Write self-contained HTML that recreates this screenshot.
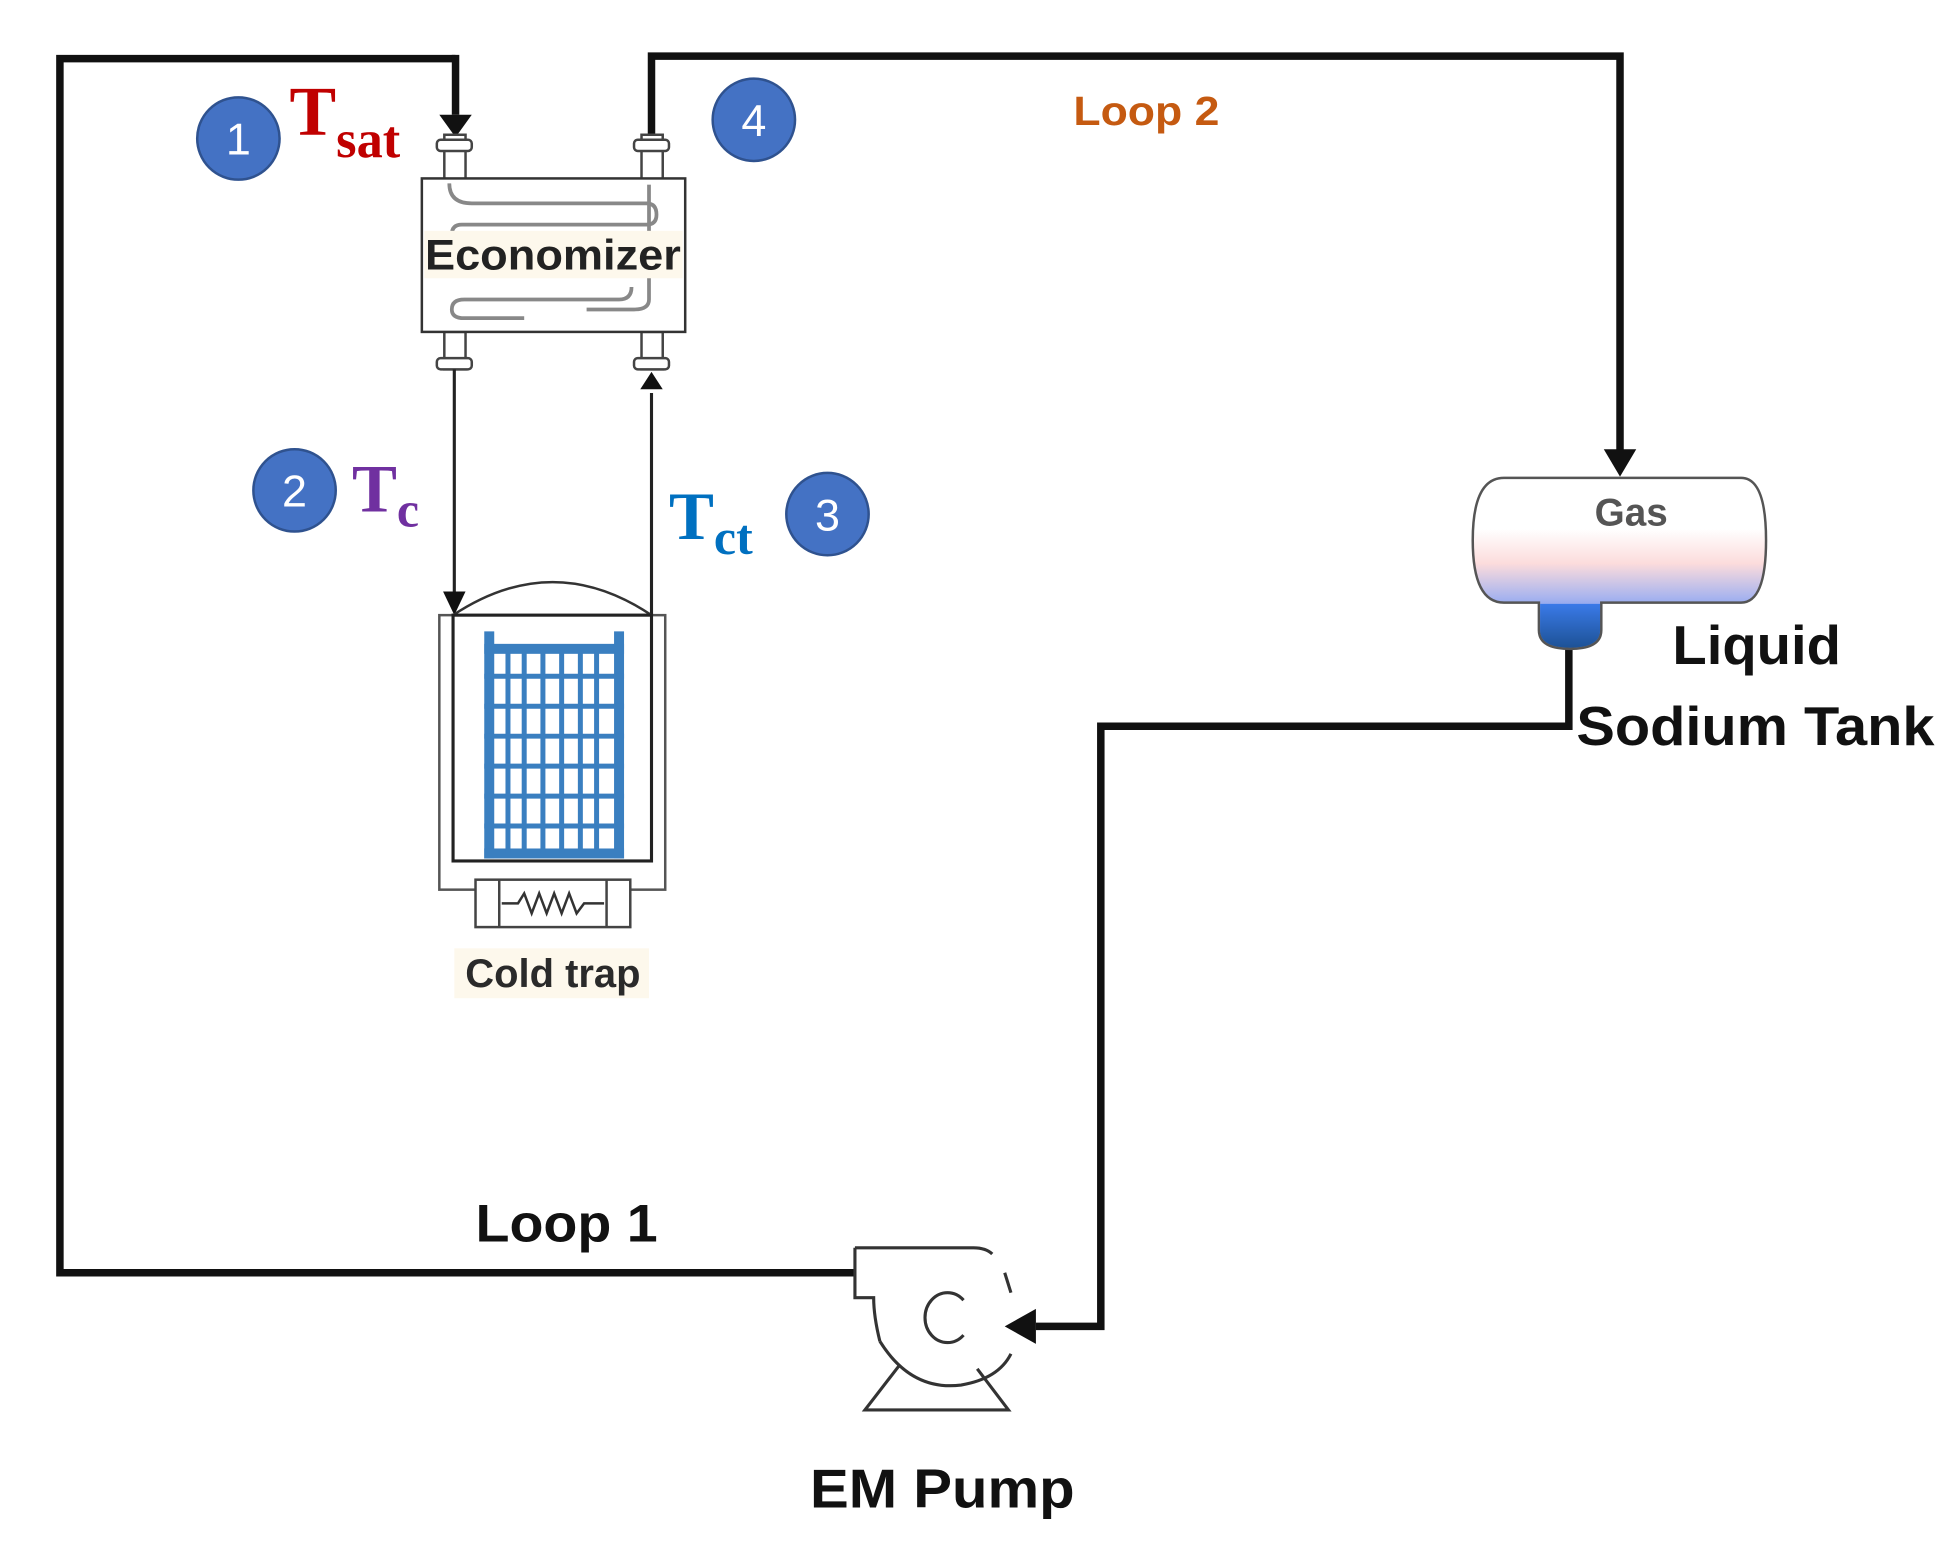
<!DOCTYPE html>
<html><head><meta charset="utf-8"><style>
html,body{margin:0;padding:0;background:#fff;}
svg{display:block;}
</style></head><body>
<svg width="1957" height="1541" viewBox="0 0 1568 1235" preserveAspectRatio="none" xmlns="http://www.w3.org/2000/svg">
<defs>
<linearGradient id="tg" x1="0" y1="0" x2="0" y2="1">
<stop offset="0" stop-color="#ffffff"/>
<stop offset="0.3" stop-color="#ffffff"/>
<stop offset="0.5" stop-color="#fcdcdc"/>
<stop offset="0.7" stop-color="#a8b4ee"/>
<stop offset="0.9" stop-color="#4a82f2"/>
<stop offset="1" stop-color="#3a78ee"/>
</linearGradient>
<linearGradient id="sg" x1="0" y1="0" x2="0" y2="1">
<stop offset="0" stop-color="#3a7ae8"/>
<stop offset="1" stop-color="#1d5296"/>
</linearGradient>
</defs>
<g fill="none" stroke="#111" stroke-width="6">
<polyline points="365,47 48,47 48,1020 686,1020"/>
<line x1="365" y1="44" x2="365" y2="92"/>
<polyline points="522,110 522,45 1298,45 1298,362"/>
<polyline points="1257,515 1257,582 882,582 882,1063 830,1063"/>
</g>
<polygon points="352,92 378,92 365,110" fill="#111"/>
<polygon points="1285,360 1311,360 1298,382" fill="#111"/>
<polygon points="805,1063 830,1049 830,1077" fill="#111"/>
<g fill="#fff" stroke="#444" stroke-width="2">
<rect x="356" y="108" width="17" height="36"/>
<rect x="350" y="112" width="28" height="9" rx="3"/>
<rect x="514" y="108" width="17" height="36"/>
<rect x="508" y="112" width="28" height="9" rx="3"/>
<rect x="356" y="266" width="17" height="30"/>
<rect x="350" y="287" width="28" height="9" rx="3"/>
<rect x="514" y="266" width="17" height="30"/>
<rect x="508" y="287" width="28" height="9" rx="3"/>
</g>
<rect x="338" y="143" width="211" height="123" fill="#fff" stroke="#333" stroke-width="2"/>
<g fill="none" stroke="#888" stroke-width="3">
<path d="M360,147 Q360,163 378,163 L518,163 Q526,163 526,172 Q526,180 518,180 L370,180 Q362,180 362,188"/>
<path d="M520,148 L520,188"/>
<path d="M520,222 L520,240 Q520,248 508,248 L470,248"/>
<path d="M506,230 Q506,240 496,240 L372,240 Q362,240 362,248 Q362,255 372,255 L420,255"/>
</g>
<rect x="340" y="185" width="207" height="38" fill="#fdf8ec"/>
<text x="443" y="216" font-family="Liberation Sans, sans-serif" font-size="34" font-weight="bold" fill="#222" text-anchor="middle" textLength="205" lengthAdjust="spacingAndGlyphs">Economizer</text>
<g stroke="#222" stroke-width="2.5">
<line x1="364" y1="296" x2="364" y2="475"/>
<line x1="522" y1="315" x2="522" y2="493"/>
</g>
<polygon points="355,474 373,474 364,493" fill="#111"/>
<polygon points="513,312 531,312 522,298" fill="#111"/>
<path d="M363,493 Q443,440 522,493" fill="none" stroke="#333" stroke-width="2"/>
<rect x="352" y="493" width="181" height="220" fill="#fff" stroke="#555" stroke-width="2"/>
<rect x="363" y="493" width="159" height="197" fill="#fff" stroke="#222" stroke-width="2.5"/>
<g fill="#3a7fc0">
<rect x="388" y="506" width="8" height="182"/>
<rect x="492" y="506" width="8" height="182"/>
<rect x="388" y="516" width="112" height="8"/>
<rect x="388" y="680" width="112" height="8"/>
</g>
<g stroke="#3a7fc0" stroke-width="4">
<line x1="388" y1="542" x2="500" y2="542"/><line x1="388" y1="566" x2="500" y2="566"/>
<line x1="388" y1="590" x2="500" y2="590"/><line x1="388" y1="614" x2="500" y2="614"/>
<line x1="388" y1="638" x2="500" y2="638"/><line x1="388" y1="662" x2="500" y2="662"/>
<line x1="407" y1="520" x2="407" y2="684"/><line x1="420" y1="520" x2="420" y2="684"/>
<line x1="435" y1="520" x2="435" y2="684"/><line x1="450" y1="520" x2="450" y2="684"/>
<line x1="465" y1="520" x2="465" y2="684"/><line x1="478" y1="520" x2="478" y2="684"/>
</g>
<rect x="381" y="705" width="124" height="38" fill="#fff" stroke="#444" stroke-width="2"/>
<line x1="400" y1="705" x2="400" y2="743" stroke="#444" stroke-width="2"/>
<line x1="486" y1="705" x2="486" y2="743" stroke="#444" stroke-width="2"/>
<polyline points="402,724 415,724 420,716 426,732 432,716 438,732 444,716 450,732 456,716 462,732 468,724 484,724" fill="none" stroke="#333" stroke-width="2"/>
<rect x="364" y="760" width="156" height="40" fill="#fdf8ec"/>
<text x="443" y="791" font-family="Liberation Sans, sans-serif" font-size="32" font-weight="bold" fill="#2a2a2a" text-anchor="middle">Cold trap</text>
<g fill="#4472c4" stroke="#2f528f" stroke-width="2">
<circle cx="191" cy="111" r="33"/>
<circle cx="604" cy="96" r="33"/>
<circle cx="236" cy="393" r="33"/>
<circle cx="663" cy="412" r="33"/>
</g>
<g font-family="Liberation Sans, sans-serif" font-size="36" fill="#fff" text-anchor="middle">
<text x="191" y="124">1</text><text x="604" y="109">4</text>
<text x="236" y="406">2</text><text x="663" y="425">3</text>
</g>
<g font-family="Liberation Serif, serif" font-weight="bold">
<text x="232" y="108" font-size="56" fill="#c00000">T<tspan font-size="42" dy="18">sat</tspan></text>
<text x="282" y="410" font-size="54" fill="#7030a0">T<tspan font-size="40" dy="12">c</tspan></text>
<text x="536" y="432" font-size="54" fill="#0070c0">T<tspan font-size="40" dy="12">ct</tspan></text>
</g>
<text x="860" y="100" font-family="Liberation Sans, sans-serif" font-size="33" font-weight="bold" fill="#c55a11" textLength="117" lengthAdjust="spacingAndGlyphs">Loop 2</text>
<text x="381" y="995" font-family="Liberation Sans, sans-serif" font-size="42" font-weight="bold" fill="#111" textLength="146" lengthAdjust="spacingAndGlyphs">Loop 1</text>
<path d="M1205,383 L1395,383 Q1415,383 1415,433 Q1415,483 1395,483 L1283,483 L1283,505 Q1283,520 1258,520 Q1233,520 1233,505 L1233,483 L1205,483 Q1180,483 1180,433 Q1180,383 1205,383 Z" fill="url(#tg)" stroke="#555" stroke-width="2"/>
<path d="M1234,484 L1282,484 L1282,505 Q1282,519 1258,519 Q1234,519 1234,505 Z" fill="url(#sg)"/>
<text x="1307" y="421" font-family="Liberation Sans, sans-serif" font-size="31" font-weight="bold" fill="#555" text-anchor="middle">Gas</text>
<g font-family="Liberation Sans, sans-serif" font-size="44" font-weight="bold" fill="#111">
<text x="1340" y="532" textLength="135" lengthAdjust="spacingAndGlyphs">Liquid</text>
<text x="1263" y="597" textLength="287" lengthAdjust="spacingAndGlyphs">Sodium Tank</text>
</g>
<g fill="none" stroke="#333" stroke-width="2.5">
<path d="M685,1000 L780,1000 Q790,1000 795,1005"/>
<path d="M685,1000 L685,1040 L700,1040 Q700,1055 705,1075"/>
<path d="M705,1075 Q730,1115 770,1110 Q800,1105 810,1085"/>
<path d="M805,1020 L810,1036"/>
<path d="M720,1095 L693,1130 L808,1130 L783,1097"/>
<path d="M772,1042 A18,20 0 1 0 772,1070"/>
</g>
<text x="755" y="1208" font-family="Liberation Sans, sans-serif" font-size="44" font-weight="bold" fill="#111" text-anchor="middle" textLength="212" lengthAdjust="spacingAndGlyphs">EM Pump</text>
</svg>
</body></html>
